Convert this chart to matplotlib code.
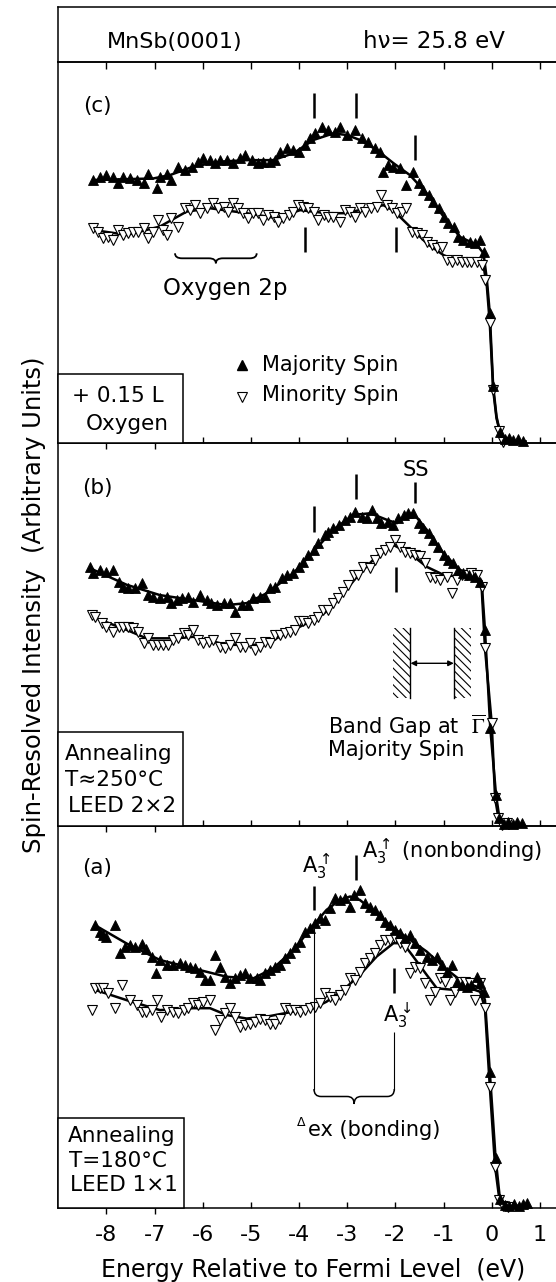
import matplotlib
matplotlib.use("Agg")
import matplotlib.pyplot as plt
from matplotlib.patches import Rectangle, FancyArrowPatch, PathPatch
from matplotlib.path import Path
from matplotlib.ticker import FixedLocator, FixedFormatter

plt.rcParams['font.family'] = ['DejaVu Sans']
plt.rcParams['mathtext.fontset'] = 'dejavusans'
plt.rcParams['hatch.linewidth'] = 0.8

# ---------------- data (energy in eV, intensity in arbitrary units) ----------------
# Panel (c): + 0.15 L oxygen
c_maj_E = [-8.27,-8.14,-8.00,-7.86,-7.76,-7.65,-7.51,-7.37,-7.23,-7.13,-6.96,-6.89,-6.75,-6.65,-6.51,
           -6.37,-6.23,-6.09,-5.99,-5.85,-5.75,-5.64,-5.50,-5.37,-5.23,-5.12,-4.98,-4.85,-4.74,-4.60,
           -4.50,-4.40,-4.26,-4.12,-4.01,-3.88,-3.77,-3.67,-3.53,-3.39,-3.25,-3.15,-3.01,-2.84,-2.70,
           -2.56,-2.42,-2.32,-2.25,-2.15,-2.04,-1.90,-1.77,-1.63,-1.52,-1.42,-1.31,-1.21,-1.10,-1.00,
           -0.90,-0.79,-0.69,-0.59,-0.45,-0.35,-0.24,-0.17,-0.04,0.03,0.17,0.27,0.36,0.45,0.55,0.66]
c_maj_I = [69.0,69.9,70.3,69.9,68.1,69.9,69.4,69.0,68.1,70.7,66.8,69.9,70.7,69.0,72.5,
           71.6,72.5,73.8,74.7,74.2,73.4,74.2,74.2,73.4,74.7,75.5,74.2,73.4,73.8,73.8,
           74.2,76.4,77.3,76.9,76.4,78.2,79.9,81.2,83.0,82.1,81.7,83.0,80.8,82.1,79.9,
           79.0,77.3,76.4,71.2,72.9,72.5,72.1,67.7,71.2,68.1,66.4,65.1,63.3,61.6,59.4,
           57.6,56.8,54.1,53.3,52.8,52.4,53.3,50.2,34.1,15.0,3.0,1.0,1.3,0.8,1.2,0.6]
c_min_E = [-8.27,-8.17,-8.07,-7.97,-7.86,-7.76,-7.65,-7.55,-7.44,-7.34,-7.23,-7.13,-7.03,-6.92,-6.82,
           -6.75,-6.65,-6.51,-6.37,-6.27,-6.16,-6.06,-5.92,-5.78,-5.68,-5.57,-5.47,-5.37,-5.26,-5.16,
           -5.06,-4.95,-4.85,-4.74,-4.64,-4.53,-4.43,-4.33,-4.22,-4.12,-4.02,-3.91,-3.81,-3.70,-3.60,
           -3.49,-3.39,-3.29,-3.15,-3.05,-2.95,-2.84,-2.74,-2.63,-2.50,-2.39,-2.29,-2.18,-2.08,-1.97,
           -1.87,-1.77,-1.66,-1.56,-1.45,-1.35,-1.25,-1.14,-1.04,-0.93,-0.83,-0.73,-0.62,-0.52,-0.42,
           -0.31,-0.21,-0.14,-0.04,0.03,0.16,0.24]
c_min_I = [56.3,55.5,53.7,54.1,53.3,55.9,54.6,55.0,55.5,55.5,56.3,53.7,55.5,58.5,55.9,
           54.6,59.0,56.8,61.6,61.1,62.4,60.3,61.6,62.9,61.6,62.0,60.7,62.9,61.6,60.3,
           59.0,60.3,60.3,58.5,59.8,59.4,58.1,59.0,59.8,60.7,62.4,62.0,61.6,60.7,58.5,
           59.8,59.4,59.4,58.1,61.1,60.7,59.4,61.6,60.7,61.6,62.0,65.1,62.4,61.6,60.3,
           60.7,61.6,55.5,55.0,54.6,52.8,52.0,51.1,51.5,48.0,47.6,48.0,47.6,47.6,47.6,
           47.6,46.7,42.8,31.4,14.0,3.3,0.3]
c_maj_fit_E = [-8.27,-7.03,-6.68,-6.20,-5.65,-5.09,-4.54,-4.12,-3.70,-3.29,-3.01,-2.74,-2.39,-2.04,
               -1.70,-1.35,-1.00,-0.66,-0.31,-0.17,-0.10,-0.04,0.03,0.10,0.17,0.25,0.40,0.70]
c_maj_fit_I = [69.0,69.4,70.3,72.5,73.8,74.2,74.2,76.0,79.5,81.2,80.8,79.5,76.9,73.4,
               70.3,65.5,59.4,54.1,52.0,49.8,42.8,34.1,15.0,7.0,3.0,0.8,0.5,0.5]
c_min_fit_E = [-8.27,-7.58,-6.89,-6.34,-5.85,-5.09,-4.47,-3.98,-3.43,-3.08,-2.74,-2.25,-2.04,-1.70,
               -1.35,-1.00,-0.66,-0.31,-0.17,-0.10,-0.04,0.03,0.10,0.17,0.25,0.40,0.70]
c_min_fit_I = [55.9,54.6,56.8,60.7,61.6,60.3,59.0,61.1,60.3,60.3,61.1,62.4,61.0,56.8,
               52.4,49.3,47.6,47.6,46.5,41.0,31.4,14.0,6.5,3.0,0.6,0.4,0.4]
c_peak_E = [-3.69, -2.82, -1.59, -3.87, -1.99]
c_peak_lo = [85.2, 85.2, 74.2, 50.2, 50.2]
c_peak_hi = [91.7, 91.7, 80.8, 56.8, 56.8]

# Panel (b): annealing 250 C, LEED 2x2
b_maj_E = [-8.34,-8.27,-8.13,-8.00,-7.86,-7.75,-7.65,-7.55,-7.41,-7.27,-7.13,-7.03,-6.89,-6.75,-6.65,
           -6.54,-6.44,-6.30,-6.20,-6.06,-5.92,-5.82,-5.71,-5.57,-5.44,-5.33,-5.19,-5.06,-4.95,-4.81,
           -4.71,-4.60,-4.50,-4.36,-4.26,-4.12,-4.01,-3.91,-3.81,-3.70,-3.60,-3.46,-3.39,-3.29,-3.18,
           -3.04,-2.94,-2.84,-2.70,-2.60,-2.49,-2.39,-2.29,-2.15,-2.04,-1.94,-1.83,-1.73,-1.63,-1.52,
           -1.42,-1.31,-1.21,-1.11,-1.00,-0.90,-0.80,-0.69,-0.59,-0.48,-0.35,-0.24,-0.14,-0.03,0.09,
           0.15,0.25,0.34,0.44,0.53,0.62]
b_maj_I = [67.7,66.0,66.9,66.4,66.9,63.8,62.5,62.1,62.1,63.4,60.3,59.9,59.5,59.9,58.2,
           59.0,59.5,59.9,58.6,60.3,59.0,58.2,57.7,58.2,58.2,56.0,57.7,57.7,59.5,59.9,
           59.9,62.1,62.5,64.7,65.6,66.0,67.7,69.0,70.8,72.1,73.9,76.0,76.9,77.8,78.6,
           80.0,80.8,82.1,80.8,80.4,82.6,80.4,79.1,79.5,78.6,80.4,81.3,81.7,81.7,79.1,
           77.8,76.5,74.7,73.0,70.8,69.5,68.6,66.9,66.0,65.6,65.1,63.8,51.2,25.5,8.0,
           2.0,0.5,0.9,0.4,1.0,0.6]
b_min_E = [-8.31,-8.24,-8.10,-8.00,-7.86,-7.75,-7.65,-7.55,-7.44,-7.34,-7.23,-7.13,-7.03,-6.92,-6.82,
           -6.72,-6.61,-6.51,-6.40,-6.30,-6.20,-6.09,-5.99,-5.88,-5.78,-5.64,-5.54,-5.44,-5.33,-5.23,
           -5.12,-5.02,-4.92,-4.81,-4.71,-4.60,-4.50,-4.40,-4.29,-4.19,-4.08,-4.01,-3.91,-3.81,-3.70,
           -3.60,-3.50,-3.39,-3.29,-3.19,-3.08,-2.98,-2.87,-2.77,-2.67,-2.53,-2.42,-2.32,-2.22,-2.11,
           -2.01,-1.90,-1.80,-1.70,-1.59,-1.49,-1.38,-1.28,-1.18,-1.07,-0.93,-0.83,-0.73,-0.62,-0.52,
           -0.42,-0.31,-0.21,-0.14,0.00,0.07,0.14,0.22,0.31]
b_min_I = [55.1,54.7,52.9,52.0,50.7,52.0,52.0,52.0,51.6,50.7,47.7,49.0,47.3,47.3,47.3,
           47.3,48.6,49.0,50.3,49.9,51.2,48.6,47.7,48.1,48.6,46.8,46.4,47.3,49.0,46.8,
           46.8,47.7,45.9,46.8,48.1,47.7,49.9,49.9,50.3,50.7,51.2,53.4,53.4,52.9,53.8,
           54.7,56.4,56.4,58.2,59.5,61.2,62.9,65.6,65.6,67.7,67.3,69.5,71.2,72.1,73.0,
           74.7,73.0,71.7,71.2,70.8,70.4,68.6,65.1,64.7,64.3,65.1,60.8,64.3,65.6,65.6,
           66.0,65.6,62.5,46.4,26.8,7.2,2.0,0.3,0.6]
b_maj_fit_E = [-8.34,-7.58,-6.89,-6.20,-5.50,-5.09,-4.67,-4.12,-3.70,-3.29,-2.87,-2.52,-2.18,-1.97,
               -1.77,-1.63,-1.35,-1.00,-0.66,-0.31,-0.21,-0.14,-0.03,0.09,0.16,0.25,0.65]
b_maj_fit_I = [67.3,63.0,60.3,59.0,57.7,58.2,60.8,66.0,71.7,77.4,81.3,81.7,80.0,79.1,
               81.3,81.7,77.4,71.2,66.9,65.1,64.0,51.2,25.5,8.0,2.0,0.5,0.3]
b_min_fit_E = [-8.31,-7.58,-7.17,-6.54,-6.20,-5.50,-4.81,-4.47,-4.12,-3.70,-3.43,-3.08,-2.74,-2.39,
               -2.04,-1.70,-1.35,-1.00,-0.66,-0.31,-0.21,-0.14,0.00,0.07,0.14,0.22,0.60]
b_min_fit_I = [54.7,51.2,49.0,49.0,49.4,47.3,47.3,49.0,51.2,53.8,56.0,60.8,66.0,70.4,
               73.4,71.2,67.7,65.6,65.1,64.5,62.5,46.4,26.8,7.2,2.0,0.4,0.3]
b_peak_E = [-3.69, -2.82, -1.59, -1.99]
b_peak_lo = [76.9, 85.4, 84.3, 61.2]
b_peak_hi = [83.6, 92.0, 90.0, 67.7]

# Panel (a): annealing 180 C, LEED 1x1
a_maj_E = [-8.24,-8.14,-8.07,-8.00,-7.82,-7.72,-7.62,-7.51,-7.41,-7.27,-7.17,-7.06,-6.97,-6.89,-6.75,
           -6.61,-6.47,-6.37,-6.27,-6.16,-6.06,-5.95,-5.85,-5.75,-5.64,-5.54,-5.44,-5.33,-5.23,-5.12,
           -5.02,-4.88,-4.81,-4.71,-4.60,-4.50,-4.40,-4.29,-4.19,-4.08,-3.98,-3.88,-3.77,-3.67,-3.56,
           -3.46,-3.36,-3.25,-3.15,-3.05,-2.94,-2.87,-2.74,-2.63,-2.53,-2.42,-2.32,-2.22,-2.11,-2.01,
           -1.90,-1.80,-1.70,-1.59,-1.49,-1.35,-1.25,-1.14,-1.04,-0.93,-0.83,-0.73,-0.62,-0.52,-0.42,
           -0.31,-0.24,-0.17,-0.04,0.08,0.17,0.27,0.36,0.46,0.56,0.66,0.73]
a_maj_I = [74.0,72.3,71.4,71.0,74.0,66.6,68.4,68.8,68.4,69.2,67.9,65.8,61.4,64.9,63.6,
           63.6,64.0,63.6,63.1,62.7,61.8,59.7,59.7,66.2,63.1,60.5,58.8,60.1,61.0,61.4,
           60.1,60.1,59.7,61.4,62.3,63.1,63.6,65.3,66.6,68.4,69.7,72.3,73.2,74.5,75.8,
           75.3,78.4,81.0,80.6,81.0,78.8,81.9,83.2,79.7,78.8,78.0,76.7,74.9,74.0,72.7,
           71.9,70.6,71.4,69.3,67.5,65.8,64.9,65.8,63.6,61.8,63.6,59.2,58.3,57.9,58.3,
           60.5,58.8,56.6,35.7,13.2,2.5,0.8,0.5,1.0,0.7,1.2,1.5]
a_min_E = [-8.31,-8.24,-8.14,-8.07,-7.96,-7.82,-7.68,-7.51,-7.37,-7.27,-7.17,-7.06,-6.96,-6.86,-6.75,
           -6.61,-6.51,-6.40,-6.30,-6.20,-6.09,-5.99,-5.85,-5.75,-5.64,-5.54,-5.44,-5.33,-5.23,-5.12,
           -5.02,-4.92,-4.81,-4.71,-4.60,-4.50,-4.40,-4.29,-4.19,-4.08,-3.98,-3.88,-3.77,-3.67,-3.56,
           -3.46,-3.36,-3.25,-3.15,-3.05,-2.94,-2.84,-2.74,-2.63,-2.53,-2.42,-2.32,-2.22,-2.11,-2.01,
           -1.90,-1.80,-1.70,-1.59,-1.49,-1.38,-1.28,-1.18,-1.07,-0.97,-0.87,-0.76,-0.66,-0.55,-0.45,
           -0.35,-0.24,-0.14,-0.04,0.07,0.16,0.24,0.33]
a_min_I = [51.8,57.5,57.5,57.5,56.2,52.3,58.4,54.4,53.1,51.4,51.4,51.8,54.4,50.1,51.8,
           51.4,51.0,51.8,52.3,53.6,53.1,54.0,54.4,46.6,49.2,51.0,52.3,50.1,47.5,47.9,
           48.3,48.8,49.6,49.2,48.3,48.3,49.6,52.3,51.8,51.8,51.4,51.8,52.3,52.7,53.6,
           56.2,55.3,54.4,55.7,57.1,60.1,59.7,61.8,64.0,65.3,66.6,68.8,70.2,70.2,70.6,
           69.3,68.4,61.4,63.1,62.7,58.8,54.4,56.6,60.1,59.2,54.4,56.6,59.2,59.2,58.8,
           54.4,58.8,52.3,31.8,10.9,2.2,0.5,0.3]
a_maj_fit_E = [-8.24,-7.58,-6.89,-6.20,-5.50,-4.95,-4.54,-4.12,-3.70,-3.43,-3.15,-2.94,-2.74,-2.39,
               -2.04,-1.70,-1.35,-1.00,-0.66,-0.31,-0.21,-0.14,-0.04,0.08,0.17,0.30,0.70]
a_maj_fit_I = [74.0,69.2,64.9,62.7,60.5,60.1,62.7,67.5,74.0,78.0,80.6,81.5,80.6,77.1,
               73.2,70.2,67.1,63.1,59.7,57.9,57.1,54.4,35.7,13.2,2.5,0.8,0.6]
a_min_fit_E = [-8.24,-7.58,-6.89,-6.20,-5.85,-5.50,-5.09,-4.67,-4.12,-3.70,-3.43,-3.08,-2.74,-2.39,
               -2.04,-1.84,-1.63,-1.35,-1.14,-0.80,-0.45,-0.24,-0.14,-0.04,0.07,0.16,0.25,0.70]
a_min_fit_I = [57.1,54.4,51.8,52.3,52.3,50.5,49.6,50.1,51.4,52.3,54.0,57.1,61.0,65.8,
               69.3,69.3,65.8,61.0,57.5,57.1,57.5,56.6,52.3,31.8,10.9,2.2,0.5,0.4]
a_peak_E = [-3.69, -2.82, -2.02]
a_peak_lo = [78.0, 85.8, 56.2]
a_peak_hi = [84.2, 92.3, 62.7]
a_guide_E = [-3.69, -2.02]
a_guide_lo = [31.0, 31.0]
a_guide_hi = [73.3, 46.2]

major_ticks = [-6, -5, -4, -3, -2, -1, 0, 1]
major_labels = ['-6', '-5', '-4', '-3', '-2', '-1', '0', '1']
minor_ticks = [-8, -7]
minor_labels = ['-8', '-7']

# ---------------- layout ----------------
W, H, DPI = 556, 1282, 100
E_MIN, E_MAX = -9.007, 1.335
LEFT = 58.0

fig = plt.figure(figsize=(W / DPI, H / DPI), dpi=DPI)
fig.patch.set_facecolor('white')


def rect(top, bottom):
    return [LEFT / W, 1 - bottom / H, (W - LEFT) / W, (bottom - top) / H]


hdr = fig.add_axes(rect(7.3, 61.7))
hdr.set_facecolor('none')
hdr.set_xlim(E_MIN, E_MAX)
hdr.set_ylim(0, 1)
hdr.spines['right'].set_visible(False)
for s in hdr.spines.values():
    s.set_linewidth(1.1)
hdr.set_yticks([])
hdr.xaxis.set_major_locator(FixedLocator(minor_ticks + major_ticks))
hdr.tick_params(axis='x', direction='out', length=4.8, width=1.0, labelbottom=False)


def panel(top, bottom, majE, majI, minE, minI, majfE, majfI, minfE, minfI,
          pkE, pklo, pkhi, show_labels):
    ax = fig.add_axes(rect(top, bottom))
    ax.set_facecolor('none')
    ax.set_xlim(E_MIN, E_MAX)
    ax.set_ylim(0, 100)
    ax.spines['right'].set_visible(False)
    for s in ax.spines.values():
        s.set_linewidth(1.1)
    ax.set_yticks([])
    ax.xaxis.set_major_locator(FixedLocator(major_ticks))
    ax.xaxis.set_minor_locator(FixedLocator(minor_ticks))
    ax.tick_params(axis='x', which='major', direction='in', length=4.5, width=1.0,
                   pad=12.2, labelsize=16)
    ax.tick_params(axis='x', which='minor', direction='out', length=4.5, width=1.0,
                   pad=7.7, labelsize=16)
    if show_labels:
        ax.xaxis.set_major_formatter(FixedFormatter(major_labels))
        ax.xaxis.set_minor_formatter(FixedFormatter(minor_labels))
    else:
        ax.tick_params(axis='x', which='both', labelbottom=False)
    ax.plot(majfE, majfI, color='black', lw=1.8, zorder=3, clip_on=False)
    ax.plot(minfE, minfI, color='black', lw=1.8, zorder=3, clip_on=False)
    ax.plot(minE, minI, ls='none', marker='v', ms=7.3, mfc='white', mec='black',
            mew=0.8, zorder=4, clip_on=False)
    ax.plot(majE, majI, ls='none', marker='^', ms=7, mfc='black', mec='black',
            mew=0.6, zorder=5, clip_on=False)
    ax.vlines(pkE, pklo, pkhi, color='black', lw=1.8, zorder=6)
    return ax


ax_c = panel(61.7, 443.3, c_maj_E, c_maj_I, c_min_E, c_min_I, c_maj_fit_E, c_maj_fit_I,
             c_min_fit_E, c_min_fit_I, c_peak_E, c_peak_lo, c_peak_hi, False)
ax_b = panel(443.3, 825.7, b_maj_E, b_maj_I, b_min_E, b_min_I, b_maj_fit_E, b_maj_fit_I,
             b_min_fit_E, b_min_fit_I, b_peak_E, b_peak_lo, b_peak_hi, False)
ax_a = panel(825.7, 1208.3, a_maj_E, a_maj_I, a_min_E, a_min_I, a_maj_fit_E, a_maj_fit_I,
             a_min_fit_E, a_min_fit_I, a_peak_E, a_peak_lo, a_peak_hi, True)
ax_a.vlines(a_guide_E, a_guide_lo, a_guide_hi, color='black', lw=0.8, zorder=6)

# ---------------- overlay in pixel coordinates for annotations ----------------
ov = fig.add_axes([0, 0, 1, 1], zorder=10)
ov.set_xlim(0, W)
ov.set_ylim(H, 0)
ov.axis('off')

# inset boxes
for (x0, y0, x1, y1) in [(LEFT, 374.3, 183.3, 443.3), (LEFT, 731.7, 182.7, 825.7),
                         (LEFT, 1117.7, 184.0, 1208.3)]:
    ov.add_patch(Rectangle((x0, y0), x1 - x0, y1 - y0, facecolor='white',
                           edgecolor='black', lw=1.1, zorder=2))


def t(x, y, s, size=15.5, ha='center', va='center_baseline', **kw):
    ov.text(x, y, s, fontsize=size, ha=ha, va=va, zorder=5, **kw)


# header
t(175, 40, 'MnSb(0001)', 16)
t(434, 39, 'h\u03bd= 25.8 eV', 16.5)

# panel labels
t(97, 104, '(c)', 15.5)
t(97, 486, '(b)', 15.5)
t(97, 866, '(a)', 15.5)

# box texts
t(118, 394, '+ 0.15 L', 15.5)
t(127, 421.7, 'Oxygen', 15.5)
t(119, 751.7, 'Annealing', 15.5)
t(114, 778, 'T\u2248250\u00b0C', 15.5)
t(122.5, 804, 'LEED 2\u00d72', 15.5)
t(121.7, 1134.3, 'Annealing', 15.5)
t(117.7, 1159.3, 'T=180\u00b0C', 15.5)
t(123.8, 1183.3, 'LEED 1\u00d71', 15.5)

# legend
ov.plot([241.7], [365], ls='none', marker='^', ms=6.5, mfc='black', mec='black', zorder=5)
ov.plot([241.7], [396.7], ls='none', marker='v', ms=6.5, mfc='white', mec='black',
        mew=0.8, zorder=5)
t(261.7, 363.3, 'Majority Spin', 15, ha='left')
t(261.7, 393.3, 'Minority Spin', 15, ha='left')


# braces
def brace(x0, x1, ytop, depth, lw=1.3):
    xm = (x0 + x1) / 2.0
    ym = ytop + depth * 0.5
    r = min(7.0, (x1 - x0) / 8.0)
    verts = [(x0, ytop), (x0, ym), (x0 + r, ym), (xm - r, ym), (xm, ym), (xm, ytop + depth),
             (xm, ym), (xm + r, ym), (x1 - r, ym), (x1, ym), (x1, ytop)]
    codes = [Path.MOVETO, Path.CURVE3, Path.CURVE3, Path.LINETO, Path.CURVE3, Path.CURVE3,
             Path.CURVE3, Path.CURVE3, Path.LINETO, Path.CURVE3, Path.CURVE3]
    ov.add_patch(PathPatch(Path(verts, codes), fill=False, lw=lw, ec='black', zorder=5))


brace(175, 256.7, 253.3, 10)
t(225.5, 286, 'Oxygen 2p', 16.5)

# SS
t(416, 468.3, 'SS', 15)

# band gap
for (x0, x1) in [(393.3, 410.0), (454.3, 470.7)]:
    ov.add_patch(Rectangle((x0, 627.7), x1 - x0, 70, fill=False, hatch='\\\\\\\\',
                           edgecolor='black', lw=0, zorder=4))
ov.plot([410.0, 410.0], [627.7, 697.7], color='black', lw=1.0, zorder=5)
ov.plot([454.3, 454.3], [627.7, 697.7], color='black', lw=1.0, zorder=5)
ov.add_patch(FancyArrowPatch((410.5, 663.3), (453.8, 663.3), arrowstyle='<|-|>',
                             mutation_scale=8, lw=1.0, color='black', shrinkA=0, shrinkB=0,
                             zorder=5))
ov.text(328.3, 723.3, 'Band Gap at  $\\overline{\\Gamma}$', fontsize=15, ha='left',
        va='center_baseline', math_fontfamily='stix', zorder=5)
t(328.3, 748.3, 'Majority Spin', 15, ha='left')

# panel (a) labels
ov.text(302, 866, r'$\mathrm{A}_{3}^{\uparrow}$', fontsize=15, ha='left', va='center', zorder=5)
ov.text(361.7, 851.5, r'$\mathrm{A}_{3}^{\uparrow}$ (nonbonding)', fontsize=15, ha='left',
        va='center', zorder=5)
ov.text(383, 1015, r'$\mathrm{A}_{3}^{\downarrow}$', fontsize=15, ha='left', va='center', zorder=5)
brace(314, 394.3, 1089, 15, lw=1.1)
t(296.7, 1121, '\u0394', 9, ha='left')
t(308.3, 1127.5, 'ex (bonding)', 15, ha='left')

# axis titles
t(313, 1268, 'Energy Relative to Fermi Level  (eV)', 17)
ov.text(34, 605, 'Spin-Resolved Intensity  (Arbitrary Units)', fontsize=17.5, rotation=90,
        ha='center', va='center', zorder=5)

fig.savefig('out.png', dpi=DPI)
